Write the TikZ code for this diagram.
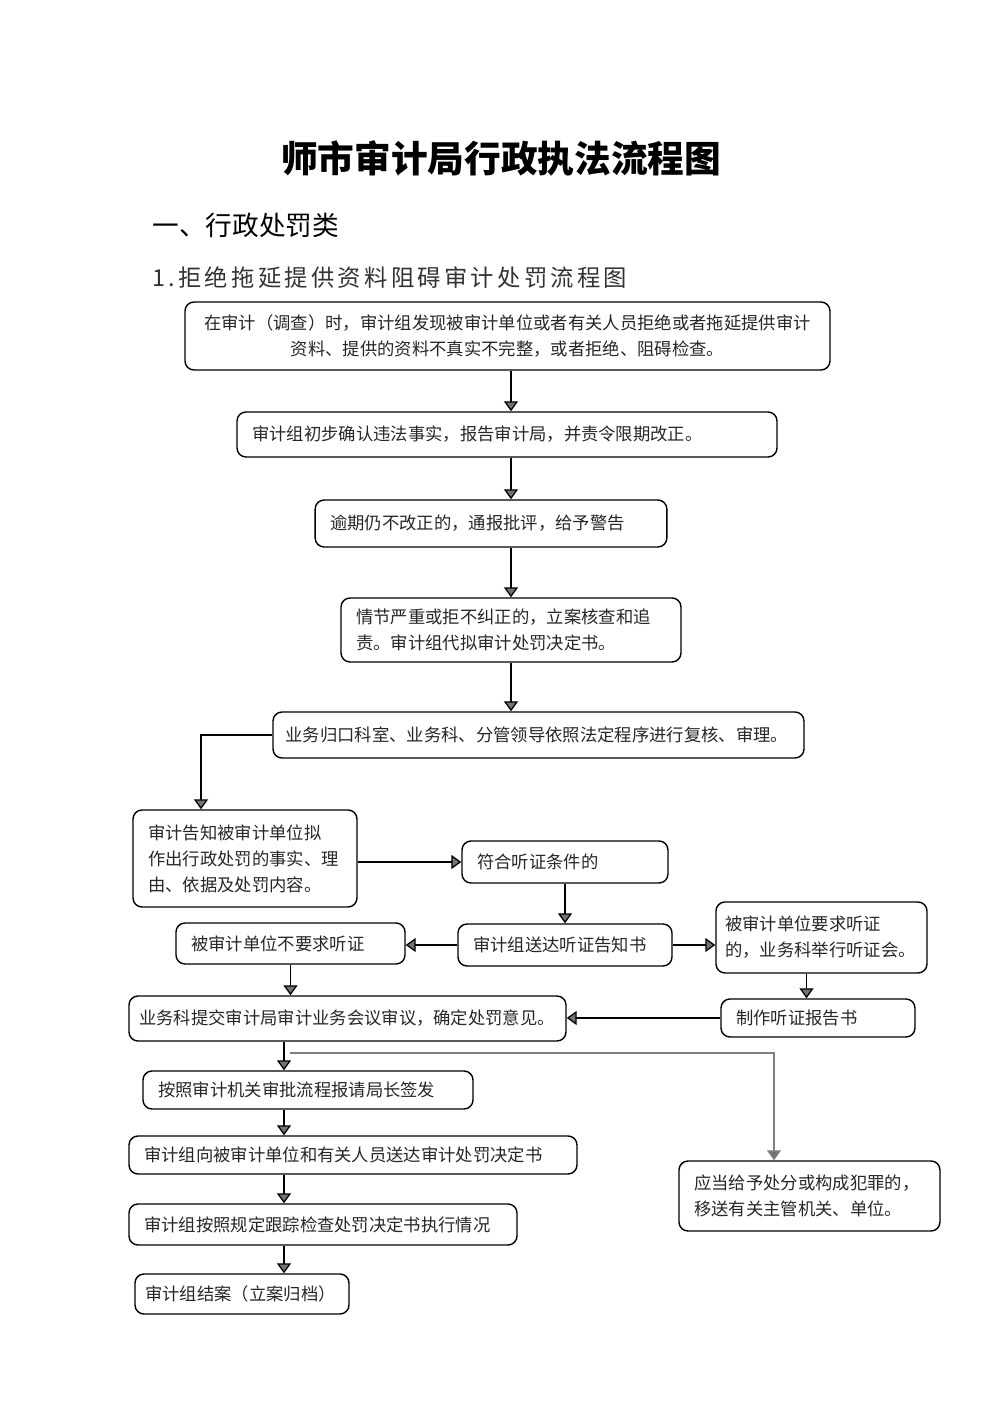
\documentclass[tikz,border=0pt]{standalone}
\usepackage{fontspec}
\setmainfont{Noto Sans CJK SC}
\newfontfamily\spacedfont[LetterSpace=14]{Noto Sans CJK SC}
\usetikzlibrary{arrows.meta,calc,positioning}

\begin{document}
\begin{tikzpicture}[x=0.6pt,y=-0.6pt,
	box/.style={draw,rounded corners=5.4pt,line width=0.85pt,inner xsep=9pt,inner ysep=0pt,
		align=left,text=black!85,font=\fontsize{10.4}{15.6}\selectfont},
	arr/.style={line width=0.75pt,-{Triangle[width=8.4pt,length=6pt,fill=black!55]}}]
	\useasboundingbox (0,0) rectangle (1000,1414);
	% headings
	\node[inner sep=0pt,font=\fontsize{22}{26}\selectfont\bfseries] (title) at (501,158) {师市审计局行政执法流程图};
	\node[inner sep=0pt,anchor=west,font=\fontsize{16}{19}\selectfont] (sect) at (152,225) {一、行政处罚类};
	\node[inner sep=0pt,anchor=west,text=black!80,font=\spacedfont\fontsize{14}{17}\selectfont] (sub) at (152,278) {1.拒绝拖延提供资料阻碍审计处罚流程图};
	% main column
	\node[box,align=center,inner xsep=6pt,text width=375pt,minimum height=40.8pt] (find) at (507.5,336) {在审计（调查）时，审计组发现被审计单位或者有关人员拒绝或者拖延提供审计\\资料、提供的资料不真实不完整，或者拒绝、阻碍检查。};
	\node[box,text width=306pt,minimum height=27pt] (confirm) at (507,434.5) {审计组初步确认违法事实，报告审计局，并责令限期改正。};
	\node[box,text width=193pt,minimum height=28.2pt] (warn) at (491,523.5) {逾期仍不改正的，通报批评，给予警告};
	\node[box,text width=186pt,minimum height=38.4pt] (serious) at (511,630) {情节严重或拒不纠正的，立案核查和追\\责。审计组代拟审计处罚决定书。};
	\node[box,inner xsep=7.5pt,text width=303.6pt,minimum height=27.6pt] (review) at (538.5,735) {业务归口科室、业务科、分管领导依照法定程序进行复核、审理。};
	% hearing part
	\node[box,text width=116.4pt,minimum height=58.2pt] (inform) at (245,858.5) {审计告知被审计单位拟\\作出行政处罚的事实、理\\由、依据及处罚内容。};
	\node[box,text width=105.6pt,minimum height=25.2pt] (cond) at (565,862) {符合听证条件的};
	\node[box,text width=110.4pt,minimum height=25.2pt] (notice) at (565,945) {审计组送达听证告知书};
	\node[box,text width=119.4pt,minimum height=24.6pt] (nohear) at (290.5,943.5) {被审计单位不要求听证};
	\node[box,inner xsep=5.5pt,text width=115.6pt,minimum height=42.6pt] (hear) at (821.5,937.5) {被审计单位要求听证\\的，业务科举行听证会。};
	\node[box,inner xsep=6pt,text width=250.2pt,minimum height=27pt] (meet) at (347.5,1018.5) {业务科提交审计局审计业务会议审议，确定处罚意见。};
	\node[box,text width=98.4pt,minimum height=22.8pt] (report) at (818,1018) {制作听证报告书};
	% final steps
	\node[box,text width=180pt,minimum height=22.8pt] (sign) at (308,1090) {按照审计机关审批流程报请局长签发};
	\node[box,text width=250.8pt,minimum height=22.8pt] (deliver) at (353,1155) {审计组向被审计单位和有关人员送达审计处罚决定书};
	\node[box,text width=214.8pt,minimum height=24.6pt] (track) at (323,1224.5) {审计组按照规定跟踪检查处罚决定书执行情况};
	\node[box,inner xsep=6pt,text width=116.4pt,minimum height=24pt] (close) at (242,1294) {审计组结案（立案归档）};
	\node[box,text width=138.6pt,minimum height=42pt] (transfer) at (809.5,1196) {应当给予处分或构成犯罪的，\\移送有关主管机关、单位。};
	% connectors
	\coordinate (spine) at (511,0);
	\coordinate (left) at (284,0);
	\coordinate (branch) at (290,1053);
	\draw[arr] (find.south -| spine) -- (confirm.north -| spine);
	\draw[arr] (confirm.south -| spine) -- (warn.north -| spine);
	\draw[arr] (warn.south -| spine) -- (serious.north -| spine);
	\draw[arr] (serious.south -| spine) -- (review.north -| spine);
	\draw[arr] (review.west) -| ($(inform.north)+(-44,0)$);
	\draw[arr] (inform.east |- cond.west) -- (cond.west);
	\draw[arr] (cond.south) -- (notice.north);
	\draw[arr] (notice.west) -- (nohear.east |- notice.west);
	\draw[arr] (notice.east) -- (hear.west |- notice.east);
	\draw[arr] (nohear.south) -- (meet.north -| nohear.south);
	\draw[arr] ([xshift=-9pt]hear.south) -- ([xshift=-9pt]hear.south |- report.north);
	\draw[arr] (report.west) -- (meet.east |- report.west);
	\draw[arr] (meet.south -| left) -- (sign.north -| left);
	\draw[arr,draw=black!50] (branch) -| ([xshift=-21.3pt]transfer.north);
	\draw[arr] (sign.south -| left) -- (deliver.north -| left);
	\draw[arr] (deliver.south -| left) -- (track.north -| left);
	\draw[arr] (track.south -| left) -- (close.north -| left);
\end{tikzpicture}
\end{document}
